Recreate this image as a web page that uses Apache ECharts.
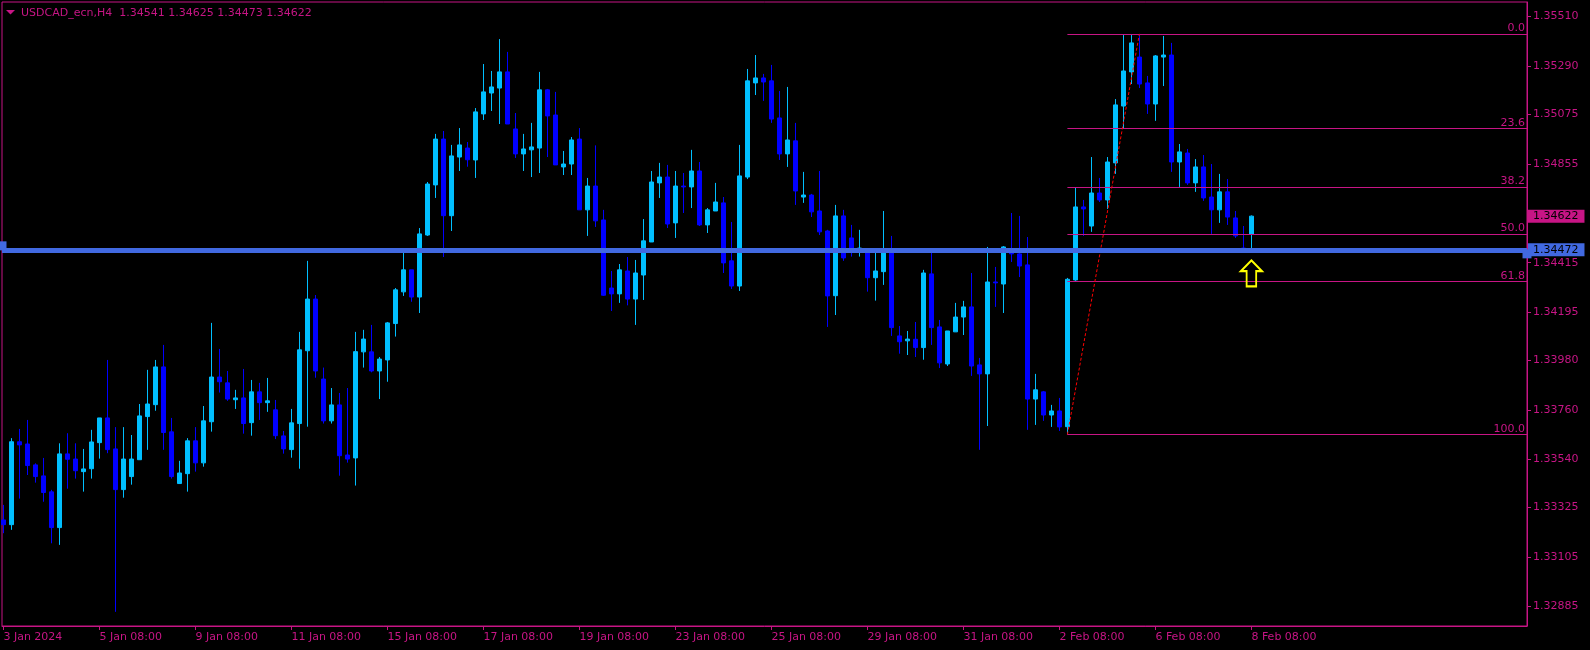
<!DOCTYPE html>
<html>
<head>
<meta charset="utf-8">
<style>
html,body{margin:0;padding:0;background:#000;}
#chart{width:1590px;height:650px;}
</style>
<script src="https://cdn.jsdelivr.net/npm/echarts@6/dist/echarts.min.js"></script>
</head>
<body>
<div id="chart"></div>
<script>
const symbolName = 'USDCAD_ecn,H4';
// [open, close, low, high] per H4 bar, bar 0 = 3 Jan 2024 08:00
const candles = [
[1.33270,1.33249,1.33211,1.33337],[1.33249,1.33618,1.33226,1.33634],[1.33618,1.33604,1.33365,1.33675],[1.33608,1.33512,1.33470,1.33715],
[1.33515,1.33463,1.33436,1.33522],[1.33466,1.33392,1.33351,1.33546],[1.33395,1.33236,1.33166,1.33404],[1.33236,1.33564,1.33159,1.33611],
[1.33564,1.33540,1.33409,1.33656],[1.33541,1.33489,1.33454,1.33611],[1.33485,1.33497,1.33396,1.33586],[1.33498,1.33617,1.33454,1.33671],
[1.33614,1.33724,1.33543,1.33724],[1.33724,1.33583,1.33567,1.33982],[1.33586,1.33405,1.32861,1.33683],[1.33405,1.33541,1.33369,1.33683],
[1.33463,1.33541,1.33427,1.33648],[1.33538,1.33733,1.33538,1.33786],[1.33730,1.33786,1.33582,1.33938],[1.33783,1.33951,1.33756,1.33982],
[1.33951,1.33659,1.33582,1.34049],[1.33662,1.33463,1.33454,1.33724],[1.33432,1.33479,1.33432,1.33533],[1.33476,1.33622,1.33396,1.33634],
[1.33622,1.33524,1.33485,1.33683],[1.33524,1.33711,1.33507,1.33777],[1.33707,1.33906,1.33663,1.34147],[1.33906,1.33885,1.33837,1.34031],
[1.33880,1.33808,1.33800,1.33933],[1.33805,1.33813,1.33764,1.33849],[1.33813,1.33699,1.33654,1.33942],[1.33703,1.33840,1.33645,1.33893],
[1.33840,1.33792,1.33715,1.33880],[1.33792,1.33800,1.33751,1.33902],[1.33760,1.33645,1.33630,1.33804],[1.33644,1.33586,1.33565,1.33666],
[1.33583,1.33702,1.33547,1.33764],[1.33699,1.34027,1.33498,1.34107],[1.34023,1.34253,1.33685,1.34423],[1.34253,1.33933,1.33903,1.34271],
[1.33897,1.33711,1.33699,1.33948],[1.33711,1.33782,1.33699,1.33857],[1.33782,1.33556,1.33467,1.33835],[1.33559,1.33541,1.33525,1.33857],
[1.33546,1.34019,1.33423,1.34107],[1.34018,1.34075,1.33948,1.34116],[1.34018,1.33933,1.33927,1.34138],[1.33933,1.33986,1.33808,1.33995],
[1.33982,1.34147,1.33885,1.34151],[1.34144,1.34294,1.34086,1.34302],[1.34285,1.34383,1.34267,1.34458],[1.34383,1.34262,1.34241,1.34383],
[1.34262,1.34543,1.34191,1.34569],[1.34538,1.34765,1.34534,1.34774],[1.34761,1.34965,1.34703,1.34988],[1.34965,1.34624,1.34440,1.35001],
[1.34624,1.34890,1.34556,1.34939],[1.34885,1.34939,1.34823,1.35014],[1.34925,1.34873,1.34842,1.34952],[1.34872,1.35086,1.34792,1.35103],
[1.35077,1.35175,1.35050,1.35299],[1.35170,1.35197,1.35090,1.35268],[1.35192,1.35264,1.35032,1.35410],[1.35264,1.35032,1.35032,1.35353],
[1.35010,1.34899,1.34881,1.35081],[1.34899,1.34921,1.34823,1.34988],[1.34917,1.34930,1.34796,1.35037],[1.34925,1.35184,1.34814,1.35264],
[1.35184,1.35068,1.34885,1.35188],[1.35072,1.34850,1.34850,1.35175],[1.34841,1.34854,1.34805,1.34912],[1.34854,1.34961,1.34805,1.34974],
[1.34965,1.34650,1.34650,1.35014],[1.34650,1.34756,1.34534,1.34792],[1.34756,1.34601,1.34574,1.34937],[1.34605,1.34270,1.34267,1.34650],
[1.34302,1.34276,1.34200,1.34378],[1.34276,1.34383,1.34236,1.34409],[1.34378,1.34253,1.34225,1.34440],[1.34253,1.34369,1.34138,1.34427],
[1.34360,1.34512,1.34249,1.34609],[1.34507,1.34774,1.34507,1.34823],[1.34770,1.34796,1.34703,1.34859],[1.34796,1.34587,1.34569,1.34850],
[1.34592,1.34756,1.34525,1.34823],[1.34756,1.34752,1.34636,1.34814],[1.34752,1.34823,1.34658,1.34917],[1.34823,1.34583,1.34578,1.34863],
[1.34583,1.34650,1.34547,1.34658],[1.34645,1.34685,1.34645,1.34770],[1.34681,1.34414,1.34369,1.34707],[1.34423,1.34311,1.34298,1.34596],
[1.34311,1.34801,1.34289,1.34939],[1.34796,1.35224,1.34787,1.35277],[1.35215,1.35237,1.35161,1.35339],[1.35237,1.35219,1.35135,1.35255],
[1.35224,1.35054,1.35037,1.35295],[1.35059,1.34899,1.34872,1.35179],[1.34899,1.34961,1.34841,1.35197],[1.34957,1.34734,1.34672,1.35037],
[1.34707,1.34716,1.34681,1.34819],[1.34716,1.34641,1.34618,1.34721],[1.34645,1.34552,1.34538,1.34823],[1.34556,1.34267,1.34129,1.34561],
[1.34268,1.34623,1.34182,1.34672],[1.34623,1.34436,1.34423,1.34650],[1.34525,1.34472,1.34442,1.34583],[1.34467,1.34480,1.34442,1.34561],
[1.34463,1.34348,1.34286,1.34480],[1.34348,1.34378,1.34246,1.34463],[1.34375,1.34476,1.34316,1.34645],[1.34472,1.34126,1.34089,1.34534],
[1.34089,1.34063,1.34010,1.34133],[1.34067,1.34075,1.34004,1.34111],[1.34074,1.34037,1.33995,1.34151],[1.34037,1.34369,1.33983,1.34383],
[1.34365,1.34126,1.34049,1.34480],[1.34129,1.33969,1.33946,1.34160],[1.33964,1.34111,1.33955,1.34111],[1.34107,1.34173,1.34107,1.34236],
[1.34173,1.34218,1.34093,1.34245],[1.34218,1.33955,1.33911,1.34369],[1.33960,1.33920,1.33582,1.33991],[1.33920,1.34329,1.33688,1.34485],
[1.34329,1.34325,1.34218,1.34396],[1.34320,1.34485,1.34191,1.34489],[1.34463,1.34454,1.34418,1.34636],[1.34454,1.34400,1.34351,1.34623],
[1.34405,1.33808,1.33671,1.34529],[1.33808,1.33849,1.33693,1.33920],[1.33840,1.33737,1.33711,1.33844],[1.33737,1.33755,1.33684,1.33782],
[1.33755,1.33684,1.33666,1.33813],[1.33685,1.34341,1.33650,1.34347],[1.34338,1.34663,1.34334,1.34749],[1.34663,1.34654,1.34534,1.34694],
[1.34578,1.34725,1.34552,1.34885],[1.34725,1.34694,1.34685,1.34792],[1.34694,1.34863,1.34654,1.34885],[1.34859,1.35117,1.34810,1.35143],
[1.35112,1.35268,1.35014,1.35428],[1.35264,1.35393,1.35210,1.35428],[1.35330,1.35210,1.35192,1.35433],[1.35215,1.35121,1.35077,1.35246],
[1.35121,1.35335,1.35046,1.35339],[1.35330,1.35339,1.35201,1.35424],[1.35339,1.34863,1.34819,1.35393],[1.34863,1.34908,1.34752,1.34943],
[1.34903,1.34770,1.34761,1.34921],[1.34770,1.34841,1.34730,1.34876],[1.34841,1.34703,1.34690,1.34894],[1.34707,1.34650,1.34543,1.34854],
[1.34650,1.34730,1.34592,1.34810],[1.34730,1.34618,1.34583,1.34787],[1.34614,1.34534,1.34525,1.34645],[1.34480,1.34467,1.34458,1.34578],
[1.34541,1.34622,1.34473,1.34625]
];
const xTickIndex = [0,12,24,36,48,60,72,84,96,108,120,132,144,156];
const xTickLabels = ['3 Jan 2024','5 Jan 08:00','9 Jan 08:00','11 Jan 08:00','15 Jan 08:00','17 Jan 08:00','19 Jan 08:00','23 Jan 08:00','25 Jan 08:00','29 Jan 08:00','31 Jan 08:00','2 Feb 08:00','6 Feb 08:00','8 Feb 08:00'];
const yTickValues = [1.35510,1.35290,1.35075,1.34855,1.34415,1.34195,1.33980,1.33760,1.33540,1.33325,1.33105,1.32885];
const fibLabels = ['0.0','23.6','38.2','50.0','61.8','100.0'];
const fibPrices = [1.35433,1.35012,1.34752,1.34542,1.34331,1.33650];
const fibStartBar = 133;
const fibEndBar = 142;
const supportPrice = 1.34472;
const lastPrice = 1.34622;
const arrowPoint = [156, 1.34367];

const MAG = '#C71585';
const FONT = '"DejaVu Sans", Tahoma, sans-serif';
const xMin = -0.175, xMax = 190.45;
const yMin = 1.32798, yMax = 1.35575;

const last = candles[candles.length - 1];
const header = symbolName + '  ' + [last[0], last[3], last[2], last[1]].map(v => v.toFixed(5)).join(' ');

const chart = echarts.init(document.getElementById('chart'));
chart.setOption({
  backgroundColor: '#000',
  animation: false,
  grid: {left: 2, top: 2, right: 63, bottom: 24, show: true, borderColor: MAG, borderWidth: 1, backgroundColor: '#000'},
  xAxis: {
    type: 'value', min: xMin, max: xMax,
    splitLine: {show: false},
    axisLine: {show: true, onZero: false, lineStyle: {color: MAG, width: 1}},
    axisTick: {show: true, length: 4, customValues: xTickIndex, lineStyle: {color: MAG}},
    axisLabel: {
      customValues: xTickIndex, color: MAG, fontFamily: FONT, fontSize: 11, align: 'left', margin: 6,
      formatter: v => xTickLabels[xTickIndex.indexOf(Math.round(v))] || ''
    }
  },
  yAxis: {
    type: 'value', position: 'right', min: yMin, max: yMax, scale: true,
    splitLine: {show: false},
    axisLine: {show: true, onZero: false, lineStyle: {color: MAG, width: 1}},
    axisTick: {show: true, length: 4, customValues: yTickValues, lineStyle: {color: MAG}},
    axisLabel: {customValues: yTickValues, color: MAG, fontFamily: FONT, fontSize: 11, margin: 6, formatter: v => v.toFixed(5)}
  },
  graphic: [
    {type: 'polygon', shape: {points: [[6,10],[15,10],[10.5,14.5]]}, style: {fill: MAG}},
    {type: 'text', left: 21, top: 8, style: {text: header, fill: MAG, font: '11px ' + FONT}}
  ],
  series: [
    {
      type: 'candlestick', layout: 'horizontal',
      data: candles.map((r, i) => [i, r[0], r[1], r[2], r[3]]),
      barWidth: 4,
      itemStyle: {color: '#00BFFF', color0: '#0000FF', borderColor: '#00BFFF', borderColor0: '#0000FF', borderColorDoji: '#00BFFF', borderWidth: 1},
      markLine: {
        silent: true, symbol: 'none', precision: 5,
        lineStyle: {color: MAG, width: 1, type: 'solid'},
        label: {show: true, position: 'insideEndTop', color: MAG, fontFamily: FONT, fontSize: 11, distance: [2, 0],
          formatter: p => fibLabels[p.dataIndex]},
        data: fibPrices.map(p => [{coord: [fibStartBar, p]}, {coord: [xMax, p]}])
      }
    },
    {
      type: 'line', data: [],
      markLine: {
        silent: true, symbol: 'none', precision: 5,
        lineStyle: {color: '#FF0000', width: 1, type: [3, 2]},
        label: {show: false},
        data: [[{coord: [fibStartBar, fibPrices[5]]}, {coord: [fibEndBar, fibPrices[0]]}]]
      }
    },
    {
      type: 'line', data: [],
      markLine: {
        silent: true, symbol: 'none', precision: 5,
        lineStyle: {color: 'rgba(0,0,0,0)', width: 1},
        label: {show: true, position: 'end', distance: 1, color: '#000', backgroundColor: MAG, padding: [1, 6, 1, 5],
          fontFamily: FONT, fontSize: 11, lineHeight: 11, formatter: () => lastPrice.toFixed(5)},
        data: [{yAxis: lastPrice}]
      }
    },
    {
      type: 'line', data: [],
      markLine: {
        silent: true, symbol: ['rect', 'rect'], symbolSize: [9, 9], symbolOffset: [[4, 0], [4, 0]], precision: 5,
        lineStyle: {color: '#4169E1', width: 5, type: 'solid'},
        itemStyle: {color: '#4169E1'},
        label: {show: true, position: 'end', distance: 1, color: '#000', backgroundColor: '#4169E1', padding: [1, 6, 1, 5],
          fontFamily: FONT, fontSize: 11, lineHeight: 11, formatter: () => supportPrice.toFixed(5)},
        data: [{yAxis: supportPrice}]
      }
    },
    {
      type: 'line', data: [],
      markPoint: {
        silent: true,
        symbol: 'path://M11,0 L22,11 L16,11 L16,27 L6,27 L6,11 L0,11 Z',
        symbolSize: [21, 26],
        itemStyle: {color: 'rgba(0,0,0,0)', borderColor: '#FFFF00', borderWidth: 2},
        label: {show: false},
        data: [{coord: arrowPoint}]
      }
    }
  ]
});
</script>
</body>
</html>
